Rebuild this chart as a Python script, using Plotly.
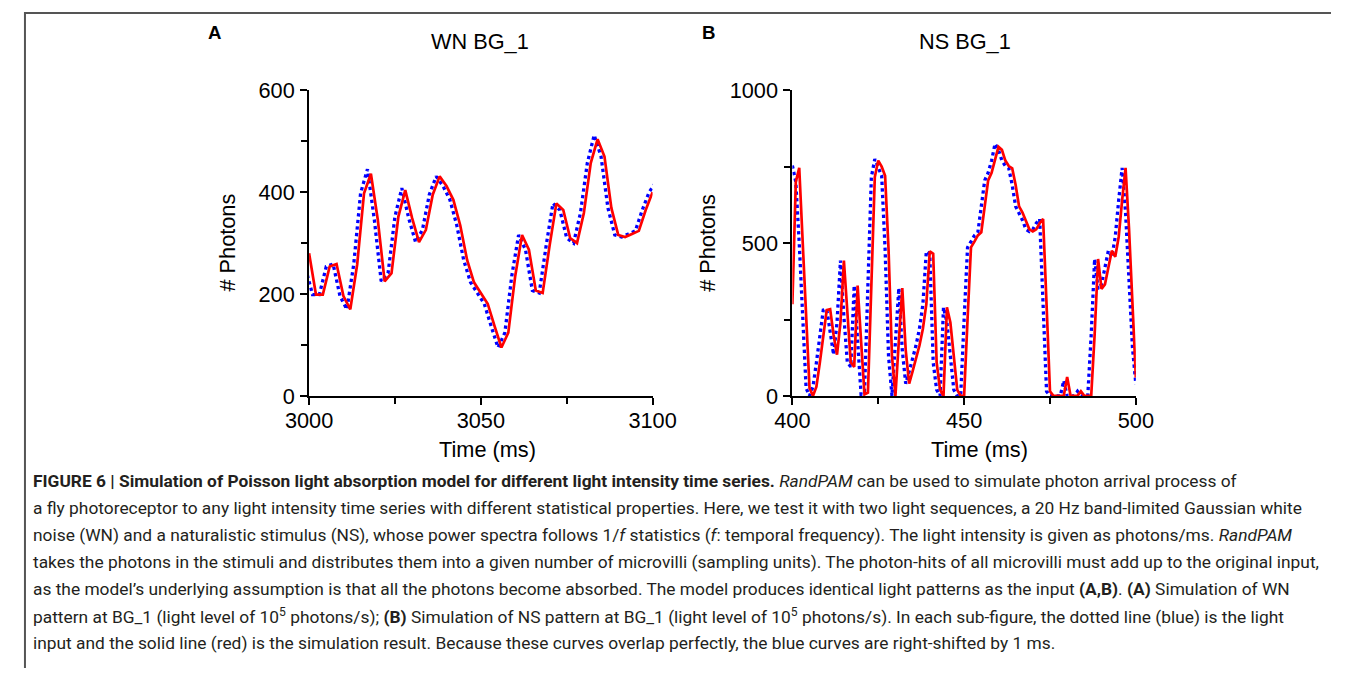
import plotly.graph_objects as go

W, H = 1355, 681

# ---------------- data ----------------
# Panel A: WN BG_1 (2 ms sampling)
time_A_red = list(range(3000, 3101, 2))
photons_A_red = [280, 199, 199, 254, 259, 196, 170, 258, 398, 436,
                 346, 225, 241, 352, 404, 349, 302, 326, 395, 431,
                 412, 385, 335, 267, 223, 202, 181, 137, 95, 124,
                 235, 316, 287, 207, 202, 294, 378, 365, 310, 300,
                 359, 457, 504, 470, 369, 316, 312, 318, 324, 365,
                 400]
time_A_blue = list(range(2999, 3102, 2))
photons_A_blue = [250, 199, 199, 254, 259, 196, 170, 258, 398, 445,
                  346, 225, 241, 352, 408, 349, 302, 326, 395, 431,
                  412, 385, 335, 267, 223, 202, 181, 137, 95, 124,
                  235, 316, 287, 207, 202, 294, 378, 365, 310, 300,
                  359, 457, 512, 470, 369, 316, 312, 318, 324, 365,
                  400, 420]

# Panel B: NS BG_1 (1 ms sampling)
time_B = list(range(400, 501))
photons_B_red = [300, 700, 746, 500, 240, 25, 0, 30, 109, 200,
                 281, 284, 200, 135, 240, 443, 260, 110, 95, 361,
                 180, 5, 11, 360, 716, 770, 750, 720, 480, 130,
                 0, 180, 353, 150, 40, 80, 120, 165, 220, 300,
                 473, 465, 110, 20, 0, 290, 240, 126, 20, 0,
                 0, 250, 486, 505, 525, 535, 620, 705, 730, 770,
                 815, 805, 770, 752, 745, 690, 620, 600, 575, 545,
                 538, 545, 565, 579, 300, 15, 0, 0, 0, 0,
                 62, 0, 0, 0, 15, 0, 0, 0, 200, 448,
                 350, 365, 420, 475, 455, 520, 640, 746, 550, 300,
                 60]
photons_B_blue = [754, 700, 500, 240, 25, 0, 30, 109, 200, 281,
                  284, 200, 135, 240, 443, 260, 110, 95, 361, 180,
                  5, 11, 360, 716, 775, 750, 720, 480, 130, 0,
                  180, 353, 150, 40, 80, 120, 165, 220, 300, 473,
                  465, 110, 20, 0, 290, 240, 126, 20, 0, 0,
                  250, 486, 505, 525, 535, 620, 705, 730, 770, 825,
                  805, 770, 752, 745, 690, 620, 600, 575, 545, 538,
                  545, 565, 579, 300, 15, 0, 0, 0, 0, 50,
                  0, 0, 0, 15, 0, 0, 0, 200, 448, 350,
                  365, 420, 475, 455, 520, 640, 746, 600, 380, 160,
                  38]

panel_titles = ["WN BG_1", "NS BG_1"]
panel_letters = ["A", "B"]
xticks_A = [3000, 3050, 3100]
yticks_A = [0, 200, 400, 600]
xticks_B = [400, 450, 500]
yticks_B = [0, 500, 1000]

caption_lines = [
    "<b>FIGURE 6 | Simulation of Poisson light absorption model for different light intensity time series.</b> <i>RandPAM</i> can be used to simulate photon arrival process of",
    "a fly photoreceptor to any light intensity time series with different statistical properties. Here, we test it with two light sequences, a 20 Hz band-limited Gaussian white",
    "noise (WN) and a naturalistic stimulus (NS), whose power spectra follows 1/<i>f</i> statistics (<i>f</i>: temporal frequency). The light intensity is given as photons/ms. <i>RandPAM</i>",
    "takes the photons in the stimuli and distributes them into a given number of microvilli (sampling units). The photon-hits of all microvilli must add up to the original input,",
    "as the model\u2019s underlying assumption is that all the photons become absorbed. The model produces identical light patterns as the input <b>(A,B)</b>. <b>(A)</b> Simulation of WN",
    "pattern at BG_1 (light level of 10<sup>5</sup> photons/s); <b>(B)</b> Simulation of NS pattern at BG_1 (light level of 10<sup>5</sup> photons/s). In each sub-figure, the dotted line (blue) is the light",
    "input and the solid line (red) is the simulation result. Because these curves overlap perfectly, the blue curves are right-shifted by 1 ms.",
]

# ---------------- helpers ----------------
# The photographed page appears shrunk by S and offset by (OX, OY);
# positions below are given in photo pixels and converted to paper units.
S, OX, OY = 0.966, 23.0, 11.5

def px(x):
    return ((x - OX) / S) / W

def py(y):
    return 1 - ((y - OY) / S) / H

def fs(size):
    return size / S

AX_FONT = dict(family="Liberation Sans, Arial, sans-serif", size=fs(21), color="black")
BLUE = "#0000ff"
RED = "#ff0000"

fig = go.Figure()

fig.add_trace(go.Scatter(x=time_A_blue, y=photons_A_blue, mode="lines",
                         line=dict(color=BLUE, width=3.3, dash="dot"),
                         xaxis="x", yaxis="y", showlegend=False))
fig.add_trace(go.Scatter(x=time_A_red, y=photons_A_red, mode="lines",
                         line=dict(color=RED, width=2.7),
                         xaxis="x", yaxis="y", showlegend=False))
fig.add_trace(go.Scatter(x=time_B, y=photons_B_blue, mode="lines",
                         line=dict(color=BLUE, width=3.3, dash="dot"),
                         xaxis="x2", yaxis="y2", showlegend=False))
fig.add_trace(go.Scatter(x=time_B, y=photons_B_red, mode="lines",
                         line=dict(color=RED, width=2.7),
                         xaxis="x2", yaxis="y2", showlegend=False))

def axis(domain, rng, tickvals, minor_dtick, anchor, standoff):
    return dict(
        domain=domain, range=rng, anchor=anchor,
        tickmode="array", tickvals=tickvals,
        ticks="outside", ticklen=7, tickwidth=2, tickcolor="black",
        minor=dict(ticks="outside", dtick=minor_dtick, tick0=rng[0],
                   ticklen=6, tickwidth=2, tickcolor="black"),
        showline=True, linecolor="black", linewidth=2,
        showgrid=False, zeroline=False,
        tickfont=AX_FONT, fixedrange=True,
        ticklabelstandoff=standoff,
    )

yA0, yA1 = py(396.5), py(90)
fig.update_layout(
    width=W, height=H,
    margin=dict(l=0, r=0, t=0, b=0),
    paper_bgcolor="white", plot_bgcolor="white",
    xaxis=axis([px(308.5), px(652.5)], [3000, 3100], xticks_A, 25, "y", -3),
    yaxis=axis([yA0, yA1], [0, 600], yticks_A, 100, "x", 1),
    xaxis2=axis([px(792.5), px(1136.5)], [400, 500], xticks_B, 25, "y2", -3),
    yaxis2=axis([yA0, yA1], [0, 1000], yticks_B, 250, "x2", 1),
)

ann = []
# Panel titles and letters
for cx, t in zip([480, 965], panel_titles):
    ann.append(dict(x=px(cx), y=py(41), xref="paper", yref="paper", text=t,
                    showarrow=False, xanchor="center", yanchor="middle", font=AX_FONT))
for cx, t in zip([214, 709], panel_letters):
    ann.append(dict(x=px(cx), y=py(32), xref="paper", yref="paper", text="<b>%s</b>" % t,
                    showarrow=False, xanchor="center", yanchor="middle",
                    font=dict(family="Liberation Sans, Arial, sans-serif", size=fs(18), color="black")))
# Axis titles
for cx in [227, 708]:
    ann.append(dict(x=px(cx), y=py(243), xref="paper", yref="paper", text="# Photons",
                    showarrow=False, textangle=-90, xanchor="center", yanchor="middle", font=AX_FONT))
for cx in [487, 980]:
    ann.append(dict(x=px(cx), y=py(450), xref="paper", yref="paper", text="Time (ms)",
                    showarrow=False, xanchor="center", yanchor="middle", font=AX_FONT))
# Caption (fills the page width)
CAP_FONT = dict(family="Roboto, Arial, sans-serif", size=17.35, color="#231f20")
for i, line in enumerate(caption_lines):
    ann.append(dict(x=7 / W, y=py(482 + 27 * i), xref="paper", yref="paper", text=line,
                    showarrow=False, xanchor="left", yanchor="middle", align="left",
                    font=CAP_FONT))
fig.update_layout(annotations=ann)

# frame lines (top and left)
fig.update_layout(shapes=[
    dict(type="line", xref="paper", yref="paper", x0=0, x1=1, y0=1 - 1 / H, y1=1 - 1 / H,
         line=dict(color="#555555", width=2)),
    dict(type="line", xref="paper", yref="paper", x0=1 / W, x1=1 / W, y0=1, y1=0,
         line=dict(color="#555555", width=2)),
])

fig.write_html(
    "out.html",
    config={"displayModeBar": False},
    post_script="document.documentElement.style.margin='0';document.documentElement.style.overflow='hidden';"
                "document.body.style.margin='0';document.body.style.overflow='hidden';",
)
